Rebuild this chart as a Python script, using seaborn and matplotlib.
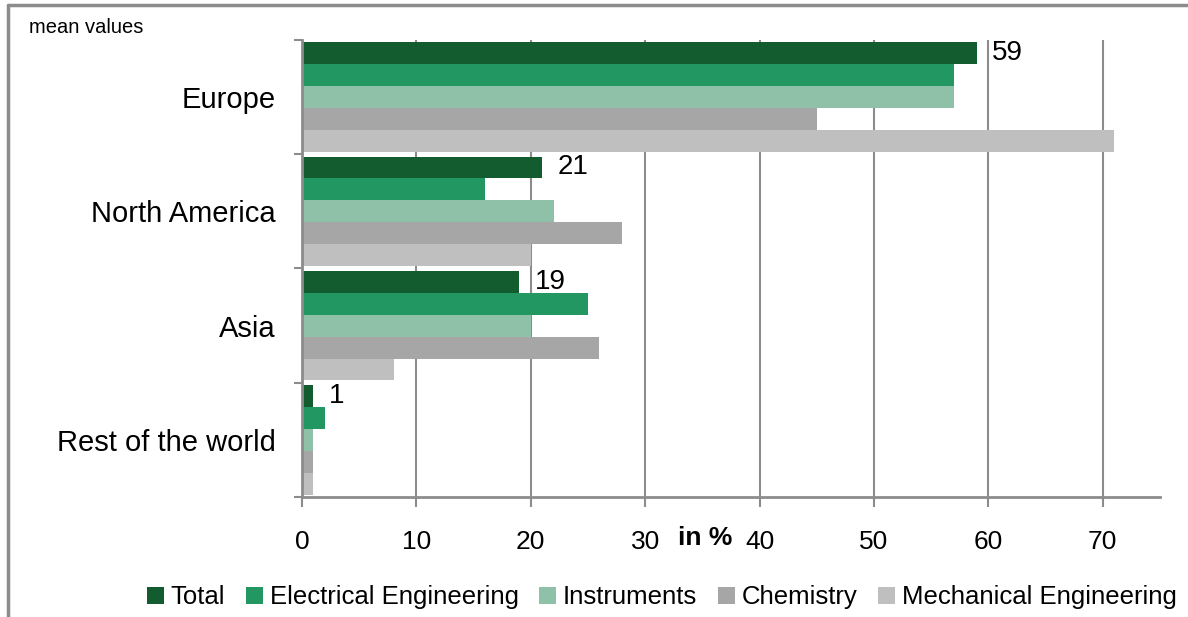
import matplotlib

matplotlib.use("Agg")

import matplotlib.pyplot as plt
import pandas as pd
import seaborn as sns
from matplotlib.lines import Line2D
from matplotlib.patches import Patch


REGIONS = ["Europe", "North America", "Asia", "Rest of the world"]
SECTORS = ["Total", "Electrical Engineering", "Instruments", "Chemistry", "Mechanical Engineering"]
TOTAL = [59, 21, 19, 1]
ELECTRICAL = [57, 16, 25, 2]
INSTRUMENTS = [57, 22, 20, 1]
CHEMISTRY = [45, 28, 26, 1]
MECHANICAL = [71, 20, 8, 1]
COLORS = ["#135C30", "#239762", "#8FC1A9", "#A6A6A6", "#BFBFBF"]
X_TICKS = [0, 10, 20, 30, 40, 50, 60, 70]

GRAY = "#8C8C8C"


def build_frame() -> pd.DataFrame:
    rows = []
    for sector, values in zip(SECTORS, [TOTAL, ELECTRICAL, INSTRUMENTS, CHEMISTRY, MECHANICAL]):
        for region, value in zip(REGIONS, values):
            rows.append({"region": region, "sector": sector, "value": value})
    return pd.DataFrame(rows)


def main() -> None:
    sns.set_theme(style="white")
    plt.rcParams["font.family"] = ["Liberation Sans", "DejaVu Sans"]
    plt.rcParams["text.color"] = "black"
    plt.rcParams["xtick.color"] = "black"
    plt.rcParams["ytick.color"] = "black"
    plt.rcParams["axes.labelcolor"] = "black"

    data = build_frame()
    fig = plt.figure(figsize=(11.88, 6.17), dpi=100)
    ax = fig.add_axes([0.2542, 0.1945, 0.7222, 0.7407])

    sns.barplot(
        data=data,
        y="region",
        x="value",
        hue="sector",
        order=REGIONS,
        hue_order=SECTORS,
        palette=COLORS,
        saturation=1,
        width=0.96,
        orient="h",
        linewidth=0,
        legend=False,
        ax=ax,
    )

    ax.set_xlim(0, 75)
    ax.set_ylim(3.5, -0.5)
    ax.set_xticks(X_TICKS)
    ax.set_xticklabels([str(t) for t in X_TICKS], fontsize=19)
    ax.tick_params(axis="x", length=7, width=1.5, color=GRAY, pad=17, bottom=True)
    ax.set_yticks(range(len(REGIONS)))
    ax.set_yticklabels(REGIONS, fontsize=21)
    ax.tick_params(axis="y", which="major", length=0, pad=19, left=False)
    ax.set_yticks([-0.5, 0.5, 1.5, 2.5, 3.5], minor=True)
    ax.tick_params(axis="y", which="minor", length=6, width=1.5, color=GRAY, left=True)

    ax.grid(axis="x", color=GRAY, linewidth=1.5)
    ax.set_axisbelow(True)
    for side in ["top", "right"]:
        ax.spines[side].set_visible(False)
    for side in ["left", "bottom"]:
        ax.spines[side].set_color(GRAY)
        ax.spines[side].set_linewidth(2)

    ax.set_ylabel("")
    ax.set_xlabel("in %", fontsize=19, fontweight="bold")
    ax.xaxis.set_label_coords(0.47, -0.063)

    ax.bar_label(ax.containers[0], fontsize=20, padding=11)

    fig.text(0.024, 0.956, "mean values", fontsize=14.5, va="center", ha="left")

    handles = [Patch(facecolor=c, edgecolor="none") for c in COLORS]
    fig.legend(
        handles,
        SECTORS,
        loc="center",
        bbox_to_anchor=(0.557, 0.032),
        ncol=5,
        frameon=False,
        fontsize=18.5,
        handlelength=0.66,
        handleheight=0.66,
        handletextpad=0.27,
        columnspacing=0.8,
    )

    fig.add_artist(Line2D([0.007, 1.0], [0.992, 0.992], color=GRAY, linewidth=2.5, transform=fig.transFigure))
    fig.add_artist(Line2D([0.007, 0.007], [0.0, 0.992], color=GRAY, linewidth=2.5, transform=fig.transFigure))

    fig.savefig("out.png", dpi=100)
    plt.close(fig)


if __name__ == "__main__":
    main()
